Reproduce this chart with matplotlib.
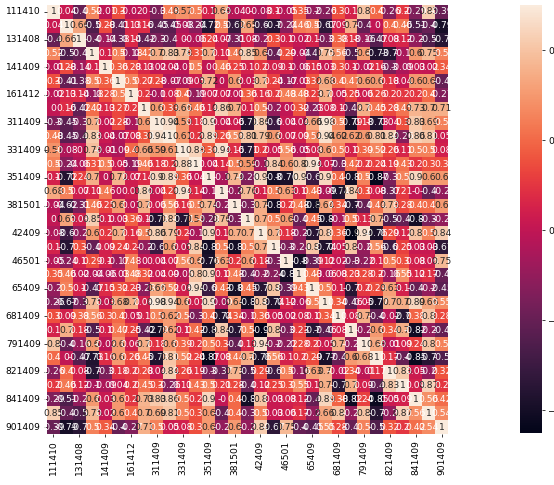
import numpy as np
import pandas as pd
import matplotlib
matplotlib.use("Agg")
import matplotlib.pyplot as plt
import seaborn as sns

# station ids (every second one is shown on the axes)
stations = ["111410", "121409", "131408", "134409", "141409", "151409",
            "161412", "171409", "311409", "321409", "331409", "341409",
            "351409", "361409", "381501", "411409", "42409", "441409",
            "46501", "611409", "65409", "671409", "681409", "711409",
            "791409", "811409", "821409", "831409", "841409", "891409",
            "901409"]

# lower triangle of the correlation matrix, row by row (diagonal = 1)
lower = [
    [0.04],
    [-0.4, 0.66],
    [0.52, -0.5, -0.4],
    [-0.01, 0.28, -0.14, 0.1],
    [0.3, -0.41, -0.38, 0.5, 0.36],
    [-0.02, 0.13, 0.14, -0.18, 0.28, 0.5],
    [0.0, 0.16, -0.42, 0.42, 0.13, 0.27, 0.2],
    [-0.3, -0.45, -0.3, 0.7, 0.02, 0.28, -0.1, 0.6],
    [0.48, -0.45, -0.4, 0.83, 0.04, -0.07, 0.08, 0.33, 0.94],
    [0.57, -0.08, 0.0, 0.78, -0.01, -0.09, 0.4, 0.66, 0.59, 0.61],
    [0.5, -0.24, -0.06, 0.31, 0.5, 0.05, -0.19, 0.46, 0.18, 0.2, 0.88],
    [0.1, -0.72, 0.24, 0.7, 0.0, 0.72, 0.07, 0.14, 0.9, 0.89, 0.36, 0.04],
    [0.68, 0.5, 0.07, 0.11, 0.46, 0.0, 0.07, 0.86, 0.04, 0.26, 0.94, 0.14, -0.1],
    [-0.04, -0.62, -0.31, 0.46, 0.25, 0.6, 0.01, 0.7, 0.06, 0.56, 0.16, 0.5, 0.74, -0.2],
    [0.0, 0.65, 0.08, 0.85, 0.1, 0.03, 0.36, 0.1, -0.73, 0.81, -0.71, 0.59, -0.28, 0.76, -0.3],
    [-0.08, -0.6, -0.2, 0.6, 0.2, 0.7, 0.16, 0.5, 0.86, 0.79, 0.2, -0.1, 0.9, 0.1, 0.7, 0.7],
    [0.1, -0.7, 0.3, -0.4, 0.09, 0.24, 0.2, -0.2, -0.6, 0.6, 0.05, 0.84, -0.8, 0.5, -0.8, 0.5, 0.7],
    [-0.05, -0.24, 0.1, 0.29, 0.1, -0.17, 0.48, 0.0, 0.04, 0.07, 0.56, 0.6, -0.76, 0.63, 0.2, 0.6,
     0.18, -0.3],
    [0.35, 0.46, 0.02, -0.04, -0.06, -0.03, 0.48, 0.32, 0.04, 0.09, -0.05, 0.8, 0.9, 0.1, 0.48,
     -0.4, -0.2, -0.24, -0.8],
    [-0.2, 0.5, 0.1, -0.47, 0.15, 0.32, 0.23, -0.23, 0.66, 0.52, 0.08, 0.94, -0.6, 0.43, -0.8,
     0.45, -0.7, 0.8, -0.39, 0.43],
    [-0.26, -0.67, -0.3, 0.75, 0.03, 0.68, 0.7, 0.08, 0.98, 0.94, 0.6, 0.07, 0.9, -0.09, 0.64,
     -0.8, 0.8, -0.74, 0.12, -0.06, 0.5],
    [0.3, 0.09, 0.38, 0.56, 0.3, 0.4, 0.05, 0.1, 0.5, 0.62, 0.5, -0.3, 0.4, -0.74, 0.34, -0.1,
     0.36, 0.05, 0.02, 0.08, 0.1, 0.34],
    [0.1, 0.7, 0.18, -0.5, 0.1, 0.47, 0.25, -0.42, -0.79, 0.62, 0.1, 0.42, -0.8, 0.84, -0.7, 0.5,
     -0.9, 0.8, -0.3, 0.23, -0.7, -0.46, 0.08],
    [0.8, -0.4, -0.16, 0.6, -0.02, 0.6, 0.06, 0.7, 0.18, 0.6, 0.39, 0.2, 0.5, 0.3, -0.4, 0.13,
     0.94, -0.2, -0.22, 0.28, 0.2, 0.05, 0.7, -0.2],
    [0.4, 0.0, -0.47, -0.73, 0.16, 0.6, 0.26, 0.45, -0.73, 0.81, 0.52, 0.24, -0.87, 0.08, 0.44,
     0.7, -0.76, 0.56, 0.1, 0.2, 0.29, -0.77, -0.4, 0.6, 0.68],
    [-0.26, 0.4, 0.08, -0.7, -0.3, 0.18, 0.2, 0.28, 0.04, 0.84, 0.26, 0.19, -0.3, -0.37, 0.73,
     -0.5, 0.29, -0.6, 0.5, -0.16, 0.63, 0.7, -0.02, 0.34, -0.01, 0.17],
    [0.2, 0.46, 0.12, -0.1, -0.09, 0.04, 0.2, 0.45, 0.3, -0.26, 0.11, 0.43, 0.5, 0.21, 0.28,
     -0.4, 0.12, 0.25, 0.3, 0.55, 0.1, 0.7, -0.7, 0.7, 0.09, -0.4, 0.83],
    [-0.29, -0.51, -0.2, 0.6, 0.03, 0.6, 0.2, 0.73, 0.83, 0.86, 0.5, 0.2, 0.9, -0.0, 0.4, -0.8,
     0.8, 0.03, 0.08, 0.12, -0.4, 0.89, 0.38, -0.82, 0.24, -0.85, 0.05, 0.09],
    [0.85, -0.4, -0.5, 0.75, 0.02, 0.6, 0.4, 0.7, 0.69, 0.81, 0.5, 0.3, 0.6, -0.4, 0.4, -0.3,
     0.5, 0.03, 0.06, 0.17, -0.2, 0.66, 0.8, -0.2, 0.8, -0.7, -0.2, 0.87, 0.56],
    [-0.39, -0.79, -0.7, 0.5, 0.34, -0.4, -0.27, 0.71, 0.5, 0.05, 0.08, 0.3, 0.6, -0.2, 0.6,
     -0.2, 0.84, -0.67, 0.75, -0.4, -0.45, 0.55, 0.28, -0.4, 0.5, -0.5, 0.32, 0.2, 0.42, 0.54],
]

n = len(stations)
corr = np.eye(n)
for i, row in enumerate(lower, start=1):
    corr[i, :i] = row
    corr[:i, i] = row
df = pd.DataFrame(corr, index=stations, columns=stations)

# the reference is a shrunk render, so draw at a low dpi
dpi = 66
fig = plt.figure(figsize=(554 / dpi, 485 / dpi), dpi=dpi)
ax = fig.add_axes([47 / 554, 51 / 485, 401 / 554, 429 / 485])
cax = fig.add_axes([520 / 554, 52 / 485, 22 / 554, 428 / 485])

sns.heatmap(df, annot=True, ax=ax, cbar_ax=cax, vmin=-0.9, vmax=1.0,
            xticklabels=2, yticklabels=2)
ax.tick_params(axis="x", labelrotation=90)
ax.tick_params(axis="y", labelrotation=0)
cax.set_yticks([-0.8, -0.4, 0.0, 0.4, 0.8])

fig.savefig("out.png", dpi=dpi)
